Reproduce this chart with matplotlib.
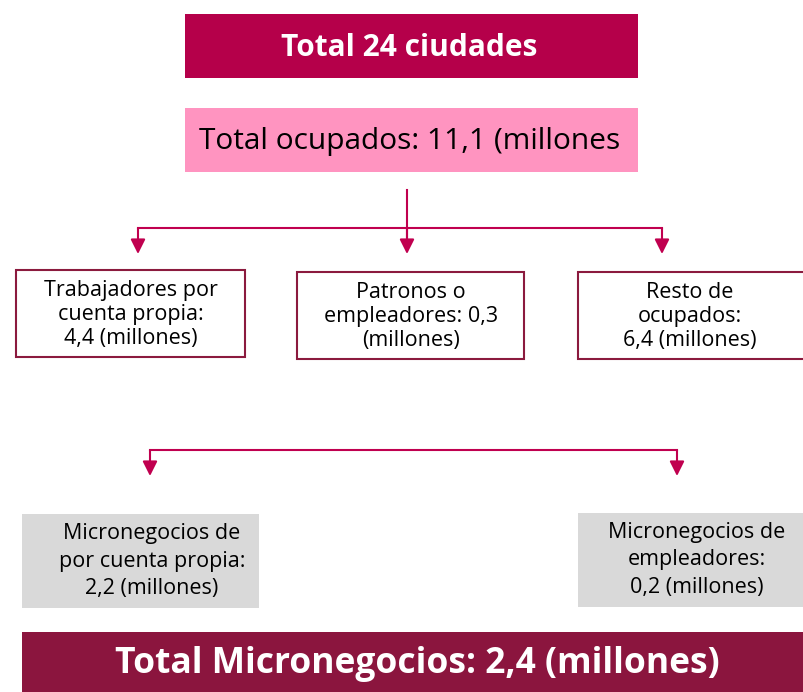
import matplotlib.pyplot as plt
from matplotlib.patches import Rectangle

plt.rcParams['font.family'] = ['Open Sans', 'DejaVu Sans']

# texts of the diagram
title = "Total 24 ciudades"
total_ocupados = "Total ocupados: 11,1 (millones"
groups = ["Trabajadores por\ncuenta propia:\n4,4 (millones)",
          "Patronos o\nempleadores: 0,3\n(millones)",
          "Resto de\nocupados:\n6,4 (millones)"]
micro = ["Micronegocios de\npor cuenta propia:\n2,2 (millones)",
         "Micronegocios de\nempleadores:\n0,2 (millones)"]
total_micro = "Total Micronegocios: 2,4 (millones)"

# box layout in pixels (x0, y0, x1, y1)
group_boxes = [(16, 270, 245, 357), (297, 272, 524, 359), (578, 272, 806, 359)]
group_text_x = [131, 411, 690]
micro_boxes = [(22, 514, 259, 608), (578, 513, 806, 607)]
micro_text_x = [152, 697]
group_arrows_x = [138, 407, 662]
micro_arrows_x = [150, 677]

line_col = "#C0004F"

fig = plt.figure(figsize=(8.04, 6.92), dpi=100)
ax = fig.add_axes([0, 0, 1, 1])
ax.set_xlim(0, 804)
ax.set_ylim(692, 0)
ax.axis("off")


def box(x0, y0, x1, y1, fc, ec="none", lw=0):
    ax.add_patch(Rectangle((x0, y0), x1 - x0, y1 - y0, facecolor=fc, edgecolor=ec, linewidth=lw))


def arrow(x, y0, y1):
    ax.annotate("", xy=(x, y1), xytext=(x, y0),
                arrowprops=dict(arrowstyle="-|>,head_length=0.8,head_width=0.4",
                                color=line_col, lw=1.5, mutation_scale=11,
                                shrinkA=0, shrinkB=0))


# header boxes
box(185, 14, 638, 78, "#B5004A")
ax.text(409, 48, title, color="white", fontsize=21.5, fontweight="bold", ha="center", va="center")
box(185, 108, 638, 172, "#FF94C0")
ax.text(410, 142, total_ocupados, color="black", fontsize=21.5, ha="center", va="center")

# connector to the three groups
ax.plot([407, 407], [190, 240], color=line_col, lw=1.5)
ax.plot([group_arrows_x[0], group_arrows_x[-1]], [228, 228], color=line_col, lw=1.5)
for x in group_arrows_x:
    arrow(x, 228, 254)

for (x0, y0, x1, y1), tx, label in zip(group_boxes, group_text_x, groups):
    box(x0, y0, x1, y1, "white", ec="#8B1A3E", lw=1.5)
    ax.text(tx, (y0 + y1) / 2 + 1, label, fontsize=15.5,
            ha="center", va="center", linespacing=1.2)

# connector to the microbusiness boxes
ax.plot([micro_arrows_x[0], micro_arrows_x[-1]], [450, 450], color=line_col, lw=1.5)
for x in micro_arrows_x:
    arrow(x, 450, 476)

for (x0, y0, x1, y1), tx, label in zip(micro_boxes, micro_text_x, micro):
    box(x0, y0, x1, y1, "#D9D9D9")
    ax.text(tx, (y0 + y1) / 2, label, fontsize=15.5,
            ha="center", va="center", linespacing=1.4)

# bottom total
box(22, 632, 806, 694, "#8B153E")
ax.text(417, 664, total_micro, color="white", fontsize=25.5, fontweight="bold",
        ha="center", va="center")

fig.savefig("out.png", dpi=100)
